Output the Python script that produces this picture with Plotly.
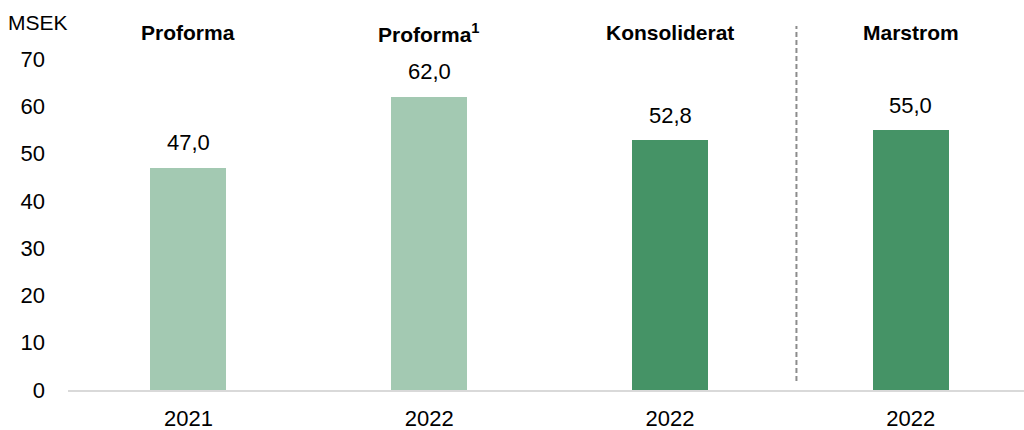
import plotly.graph_objects as go

# data
years = ["2021", "2022", "2022", "2022"]
groups = ["Proforma", "Proforma<sup>1</sup>", "Konsoliderat", "Marstrom"]
values = [47.0, 62.0, 52.8, 55.0]
bar_colors = ["#A3C9B2", "#A3C9B2", "#459366", "#459366"]
y_ticks = [0, 10, 20, 30, 40, 50, 60, 70]

FONT = "Liberation Sans, Arial, sans-serif"

xs = list(range(len(values)))

fig = go.Figure()
fig.add_trace(go.Bar(
    x=xs,
    y=values,
    width=0.316,
    marker=dict(color=bar_colors, line=dict(width=0)),
    hoverinfo="skip",
))

# value labels above bars
for x, v in zip(xs, values):
    fig.add_annotation(
        x=x, y=v, xref="x", yref="y",
        text="{:.1f}".format(v).replace(".", ","),
        showarrow=False, yanchor="middle", yshift=25,
        font=dict(family=FONT, size=22, color="#000000"),
    )

# group headings at the top
for x, g in zip(xs, groups):
    fig.add_annotation(
        x=x, y=75.6, xref="x", yref="y",
        text="<b>" + g + "</b>",
        showarrow=False, yanchor="middle",
        font=dict(family=FONT, size=21, color="#000000"),
    )

fig.add_annotation(
    x=0, y=1, xref="paper", yref="paper",
    text="MSEK", showarrow=False,
    xanchor="center", yanchor="middle", xshift=-30, yshift=-3,
    font=dict(family=FONT, size=21, color="#000000"),
)

# dashed separator before Marstrom
fig.add_shape(
    type="line", xref="x", yref="paper",
    x0=2.525, x1=2.525, y0=0.024, y1=0.981,
    line=dict(color="#8C8C8C", width=2, dash="5px,3px"),
)

fig.update_layout(
    width=1024, height=430,
    margin=dict(l=68, r=0, t=19, b=40),
    paper_bgcolor="white",
    plot_bgcolor="white",
    showlegend=False,
    bargap=0,
    font=dict(family=FONT, size=22, color="#000000"),
)
fig.update_xaxes(
    range=[-0.5, 3.47],
    tickmode="array", tickvals=xs, ticktext=years,
    tickfont=dict(family=FONT, size=22, color="#000000"),
    showgrid=False, zeroline=False,
    showline=True, linecolor="#D9D9D9", linewidth=2,
    ticks="", ticklabelstandoff=8, automargin=False,
)
fig.update_yaxes(
    range=[0, 78.5],
    tickmode="array", tickvals=y_ticks,
    tickfont=dict(family=FONT, size=22, color="#000000"),
    showgrid=False, zeroline=False, showline=False,
    ticks="", ticklabelstandoff=22, automargin=False,
)

# page body has a default 8px margin; drop it so the chart fills the window
fig.write_html(
    "out.html",
    config={"displayModeBar": False},
    post_script="document.body.style.margin='0px';",
)
